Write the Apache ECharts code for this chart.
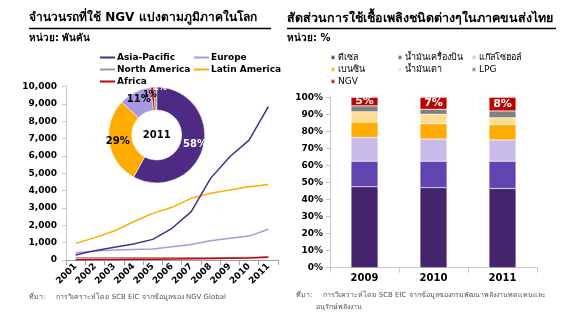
<!DOCTYPE html>
<html><head><meta charset="utf-8">
<script src="https://cdn.jsdelivr.net/npm/echarts@6/dist/echarts.min.js"></script>
<style>html,body{margin:0;padding:0;background:#fff}#c{width:580px;height:327px}</style>
</head><body><div id="c"></div>
<script>
// ---- Left chart data ----
const years = ['2001','2002','2003','2004','2005','2006','2007','2008','2009','2010','2011'];
const asiaPacific = [290, 540, 730, 920, 1190, 1830, 2790, 4710, 5960, 6920, 8850];
const europe = [420, 520, 580, 610, 630, 770, 900, 1110, 1250, 1380, 1770];
const northAmerica = [130, 130, 130, 130, 130, 130, 130, 130, 130, 140, 150];
const latinAmerica = [960, 1290, 1670, 2210, 2690, 3040, 3560, 3850, 4040, 4230, 4350];
const africa = [20, 25, 30, 40, 50, 60, 70, 80, 100, 120, 180];
const share2011Names = ['Asia-Pacific','Latin America','Europe','Africa','North America'];
const share2011 = [58, 29, 11, 1, 1];
const leftYTicks = [0, 10000, 1000];

// ---- Right chart data ----
const fuelYears = ['2009','2010','2011'];
const fuelNames = ['ดีเซล','น้ำมันเครื่องบิน','แก๊สโซฮอล์','เบนซิน','น้ำมันเตา','LPG','NGV'];
const diesel = [47.5, 47, 46.5];
const jetFuel = [15, 15.5, 16];
const gasohol = [14, 13, 12.5];
const benzin = [9, 9, 9];
const fuelOil = [6, 5.5, 4];
const lpg = [3.5, 3, 4];
const ngv = [5, 7, 8];

const FONT = 'Tahoma, "DejaVu Sans", "Noto Sans", sans-serif';
const chart = echarts.init(document.getElementById('c'));
const lineColors = {'Asia-Pacific':'#4d2a84','Europe':'#a898e2','North America':'#9a9a9a','Latin America':'#ffab00','Africa':'#cc0000'};
const fuelColors = ['#45246e','#6045b0','#c8bbea','#ffab00','#ffdc92','#808080','#c00000'];
const fuelData = [diesel, jetFuel, gasohol, benzin, fuelOil, lpg, ngv];

function lineSeries(name, data){
  return {type:'line', name, data, xAxisIndex:0, yAxisIndex:0, showSymbol:false, symbol:'none',
    lineStyle:{width:1.5, color:lineColors[name]}, itemStyle:{color:lineColors[name]}, z:3};
}

const option = {
  animation:false,
  textStyle:{fontFamily:FONT},
  title:[
    {text:'จำนวนรถที่ใช้ NGV แบ่งตามภูมิภาคในโลก', left:29, top:12, padding:0, textStyle:{fontSize:12, fontWeight:'bold', color:'#000', fontFamily:FONT}},
    {text:'หน่วย: พันคัน', left:29, top:33, padding:0, textStyle:{fontSize:10, fontWeight:'bold', color:'#000', fontFamily:FONT}},
    {text:'สัดส่วนการใช้เชื้อเพลิงชนิดต่างๆในภาคขนส่งไทย', left:287, top:12, padding:0, textStyle:{fontSize:12.5, fontWeight:'bold', color:'#000', fontFamily:FONT}},
    {text:'หน่วย: %', left:287, top:33, padding:0, textStyle:{fontSize:10, fontWeight:'bold', color:'#000', fontFamily:FONT}},
    {text:'ที่มา:     การวิเคราะห์โดย SCB EIC จากข้อมูลของ NGV Global', left:29, top:294, padding:0, textStyle:{fontSize:7, fontWeight:'normal', color:'#555', fontFamily:FONT}},
    {text:'ที่มา:     การวิเคราะห์โดย SCB EIC จากข้อมูลของกรมพัฒนาพลังงานทดแทนและ', left:296, top:292, padding:0, textStyle:{fontSize:7, fontWeight:'normal', color:'#555', fontFamily:FONT}},
    {text:'อนุรักษ์พลังงาน', left:316, top:304, padding:0, textStyle:{fontSize:7, fontWeight:'normal', color:'#555', fontFamily:FONT}},
    {text:'2011', left:156.7, top:135, padding:0, textAlign:'center', textVerticalAlign:'middle', textStyle:{fontSize:10, fontWeight:'bold', color:'#000', fontFamily:FONT}}
  ],
  graphic:[
    {type:'line', shape:{x1:29,y1:28.5,x2:271,y2:28.5}, style:{stroke:'#000', lineWidth:1.5}},
    {type:'line', shape:{x1:287,y1:28.5,x2:556,y2:28.5}, style:{stroke:'#000', lineWidth:1.5}},
    {type:'text', z:100, x:150, y:95, style:{text:share2011[3]+'%', fill:'#000', font:'bold 8px '+FONT, align:'center', verticalAlign:'middle'}},
    {type:'text', z:100, x:160, y:88, style:{text:share2011[4]+'%', fill:'#fff', font:'bold 8px '+FONT, align:'center', verticalAlign:'middle'}}
  ],
  legend:[
    {data:['Asia-Pacific','North America','Africa'], left:95, top:47, orient:'vertical', itemGap:1, itemWidth:15, itemHeight:2, icon:'rect',
      textStyle:{fontSize:9, fontWeight:'bold', color:'#000', lineHeight:11, padding:[0,0,0,-3]}, selectedMode:false},
    {data:['Europe','Latin America'], left:189, top:47, orient:'vertical', itemGap:1, itemWidth:15, itemHeight:2, icon:'rect',
      textStyle:{fontSize:9, fontWeight:'bold', color:'#000', lineHeight:11, padding:[0,0,0,-3]}, selectedMode:false},
    {data:[fuelNames[0],fuelNames[3],fuelNames[6]], left:325, top:47, orient:'vertical', itemGap:1, itemWidth:4, itemHeight:4, icon:'rect',
      textStyle:{fontSize:9, color:'#000', lineHeight:11, padding:[0,0,0,-2]}, selectedMode:false},
    {data:[fuelNames[1],fuelNames[4]], left:392, top:47, orient:'vertical', itemGap:1, itemWidth:4, itemHeight:4, icon:'rect',
      textStyle:{fontSize:9, color:'#000', lineHeight:11, padding:[0,0,0,-2]}, selectedMode:false},
    {data:[fuelNames[2],fuelNames[5]], left:466, top:47, orient:'vertical', itemGap:1, itemWidth:4, itemHeight:4, icon:'rect',
      textStyle:{fontSize:9, color:'#000', lineHeight:11, padding:[0,0,0,-2]}, selectedMode:false}
  ],
  grid:[
    {left:66, right:302, top:86.7, bottom:67, containLabel:false},
    {left:330, right:43, top:97.3, bottom:59.3, containLabel:false}
  ],
  xAxis:[
    {type:'category', gridIndex:0, data:years, boundaryGap:true,
      axisLine:{lineStyle:{color:'#a0a0a0'}}, axisTick:{show:true, alignWithLabel:false, lineStyle:{color:'#a0a0a0'}},
      axisLabel:{rotate:45, interval:0, fontSize:9, fontWeight:'bold', color:'#000', margin:5}},
    {type:'category', gridIndex:1, data:fuelYears,
      axisLine:{lineStyle:{color:'#c8c8c8'}}, axisTick:{show:true, lineStyle:{color:'#c8c8c8'}},
      axisLabel:{fontSize:10, fontWeight:'bold', color:'#000', margin:6}}
  ],
  yAxis:[
    {type:'value', gridIndex:0, min:leftYTicks[0], max:leftYTicks[1], interval:leftYTicks[2],
      axisLine:{show:true, lineStyle:{color:'#c8c8c8'}}, axisTick:{show:true, length:4, lineStyle:{color:'#c8c8c8'}},
      splitLine:{show:false},
      axisLabel:{fontSize:9, fontWeight:'bold', color:'#000', margin:9,
        formatter:v=>v.toLocaleString('en-US')}},
    {type:'value', gridIndex:1, min:0, max:100, interval:10,
      axisLine:{show:true, lineStyle:{color:'#c8c8c8'}}, axisTick:{show:true, length:4, lineStyle:{color:'#c8c8c8'}},
      splitLine:{show:false},
      axisLabel:{fontSize:9, fontWeight:'bold', color:'#000', margin:7, formatter:'{value}%'}}
  ],
  series:[
    lineSeries('Latin America', latinAmerica),
    lineSeries('Europe', europe),
    lineSeries('North America', northAmerica),
    lineSeries('Africa', africa),
    lineSeries('Asia-Pacific', asiaPacific),
    {type:'pie', center:[156.7,135], radius:[25,48], startAngle:90, clockwise:true, z:5,
      avoidLabelOverlap:false,
      labelLine:{show:false}, emphasis:{disabled:true},
      itemStyle:{borderColor:'#fff', borderWidth:0.5},
      label:{show:true, position:'inside', fontSize:10, fontWeight:'bold', formatter:'{c}%'},
      data: share2011Names.map((n,i)=>{
        const d = {name:n, value:share2011[i], itemStyle:{color:lineColors[n]}, label:{color:'#000'}};
        if(n==='Asia-Pacific') d.label = {color:'#fff'};
        if(n==='Africa' || n==='North America') d.label = {show:false};
        return d;
      })
    },
    ...fuelNames.map((n,i)=>({
      type:'bar', name:n, stack:'fuel', xAxisIndex:1, yAxisIndex:1, data:fuelData[i], barWidth:27,
      itemStyle:{color:fuelColors[i], borderColor:'rgba(255,255,255,0.6)', borderWidth:0.5},
      label: n==='NGV' ? {show:true, position:'inside', color:'#fff', fontWeight:'bold', fontSize:11, formatter:'{c}%'} : {show:false}
    }))
  ]
};
chart.setOption(option);
</script>
</body></html>
